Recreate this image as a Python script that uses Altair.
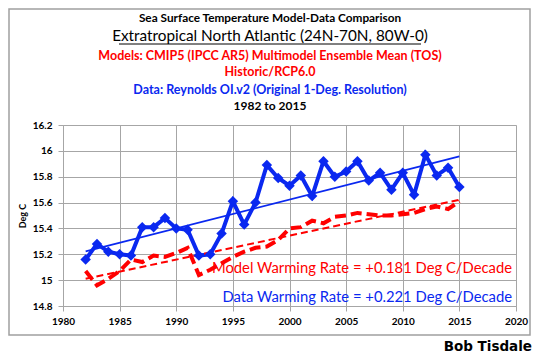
import altair as alt
import pandas as pd

# ---- data ----
years = list(range(1982, 2016))
data_sst = [15.16, 15.28, 15.22, 15.20, 15.19, 15.41, 15.41, 15.48, 15.40, 15.39,
            15.19, 15.20, 15.36, 15.61, 15.43, 15.60, 15.89, 15.79, 15.73, 15.81,
            15.65, 15.92, 15.80, 15.84, 15.92, 15.77, 15.83, 15.70, 15.83, 15.66,
            15.97, 15.81, 15.87, 15.72]
model_sst = [15.07, 14.96, 15.01, 15.07, 15.16, 15.14, 15.19, 15.18, 15.21, 15.25,
             15.04, 15.08, 15.13, 15.18, 15.22, 15.25, 15.26, 15.31, 15.40, 15.41,
             15.46, 15.44, 15.49, 15.50, 15.52, 15.51, 15.50, 15.50, 15.51, 15.52,
             15.55, 15.57, 15.55, 15.61]

title_lines = [
    "Sea Surface Temperature Model-Data Comparison",
    "Extratropical North Atlantic (24N-70N, 80W-0)",
    "Models: CMIP5 (IPCC AR5) Multimodel Ensemble Mean (TOS)",
    "Historic/RCP6.0",
    "Data: Reynolds OI.v2 (Original 1-Deg. Resolution)",
    "1982 to 2015",
]
model_rate_label = "Model Warming Rate = +0.181 Deg C/Decade"
data_rate_label = "Data Warming Rate = +0.221 Deg C/Decade"
credit = "Bob Tisdale"
x_ticks = [1980, 1985, 1990, 1995, 2000, 2005, 2010, 2015, 2020]
y_ticks = [14.8, 15.0, 15.2, 15.4, 15.6, 15.8, 16.0, 16.2]

BLUE = "#0a28f0"
RED = "#ff0000"
FONT = "Lato"
W, H = 453, 181

df = pd.DataFrame({"year": years, "data": data_sst, "model": model_sst})

xs = alt.Scale(domain=[1980, 2020], nice=False)
ys = alt.Scale(domain=[14.8, 16.2], nice=False)

x_axis = alt.Axis(values=x_ticks, format="d", title=None, grid=True,
                  gridColor="#a6a6a6", domainColor="#a6a6a6", tickColor="#a6a6a6",
                  tickSize=5, labelFont=FONT, labelFontWeight="bold",
                  labelFontSize=10, labelColor="black", labelPadding=5,
                  labelOverlap=False, labelFlush=False)
y_axis = alt.Axis(values=y_ticks, format=".1~f", title="Deg C", grid=True,
                  gridColor="#a6a6a6", domainColor="#a6a6a6", tickColor="#a6a6a6",
                  tickSize=5, tickCount=8, labelFont=FONT, labelFontWeight="bold",
                  labelFontSize=10, labelColor="black", labelPadding=6,
                  labelOverlap=False, labelFlush=False,
                  titleFont=FONT, titleFontWeight="bold", titleFontSize=9,
                  titleColor="black", titleX=-41, titleY=H / 2, titleAngle=-90,
                  titleAlign="center", titleBaseline="middle")


def X():
    return alt.X("year:Q", scale=xs, axis=x_axis)


def Yf(field):
    return alt.Y(f"{field}:Q", scale=ys, axis=y_axis)


base = alt.Chart(df)

data_line = base.mark_line(color=BLUE, strokeWidth=4).encode(x=X(), y=Yf("data"))
model_trend = base.transform_regression("year", "model").mark_line(
    color=RED, strokeWidth=2, strokeDash=[7, 4]).encode(x=X(), y=Yf("model"))
model_line = base.mark_line(color=RED, strokeWidth=4, strokeDash=[11, 5]).encode(
    x=X(), y=Yf("model"))
data_trend = base.transform_regression("year", "data").mark_line(
    color=BLUE, strokeWidth=1.8).encode(x=X(), y=Yf("data"))
data_pts = base.mark_point(shape="diamond", filled=True, color=BLUE, size=110,
                           opacity=1).encode(x=X(), y=Yf("data"))

# title lines (text from list)
tdf = pd.DataFrame({
    "t": title_lines,
    "ypos": [-107, -89, -69, -53, -35, -19],
    "col": ["black", "black", RED, RED, BLUE, "black"],
    "size": [11.8, 15.3, 12.5, 12.5, 12.5, 12],
    "wt": ["bold", "normal", "bold", "bold", "bold", "bold"],
})
titles = []
for i in range(len(title_lines)):
    titles.append(alt.Chart(tdf.iloc[[i]]).mark_text(
        font=FONT, fontSize=float(tdf["size"][i]), fontWeight=tdf["wt"][i],
        color=tdf["col"][i], align="center", baseline="middle").encode(
        text="t:N", x=alt.value(207), y=alt.value(float(tdf["ypos"][i]))))
underline = alt.Chart(tdf.iloc[[1]]).mark_rule(color="black", strokeWidth=1).encode(
    x=alt.value(56), x2=alt.value(358), y=alt.value(-81))

ann = pd.DataFrame({"t": [model_rate_label, data_rate_label]})
model_ann = alt.Chart(ann.iloc[[0]]).mark_text(
    font=FONT, fontSize=14.8, color=RED, align="right", baseline="middle").encode(
    text="t:N", x=alt.value(449), y=alt.value(144))
data_ann = alt.Chart(ann.iloc[[1]]).mark_text(
    font=FONT, fontSize=14.8, color=BLUE, align="right", baseline="middle").encode(
    text="t:N", x=alt.value(449), y=alt.value(173))

cdf = pd.DataFrame({"t": [credit]})
credit_txt = alt.Chart(cdf).mark_text(
    font="DejaVu Sans", fontSize=13.5, fontWeight="bold", color="black",
    align="right", baseline="alphabetic").encode(
    text="t:N", x=alt.value(469), y=alt.value(226))

frame = alt.Chart(cdf).mark_rect(fill=None, stroke="#a0a0a0", strokeWidth=1.5).encode(
    x=alt.value(-54), x2=alt.value(467), y=alt.value(-116), y2=alt.value(210))

chart = alt.layer(
    data_line, frame, model_trend, model_line, data_trend, data_pts,
    *titles, underline, model_ann, data_ann, credit_txt
).properties(
    width=W, height=H,
    autosize=alt.AutoSizeParams(type="none"),
    padding={"left": 55, "top": 117, "right": 16, "bottom": 48},
).resolve_axis(y="shared").configure_view(stroke="#a6a6a6", strokeWidth=1).configure(
    background="white")

chart.save("out.html", embed_options={"renderer": "svg", "actions": False})
